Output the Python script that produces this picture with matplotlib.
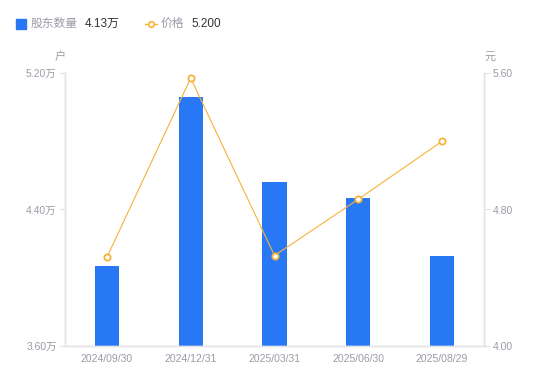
import matplotlib
matplotlib.use('Agg')
import matplotlib.pyplot as plt
from matplotlib.lines import Line2D
from matplotlib.patches import Rectangle

plt.rcParams['font.family'] = ['Liberation Sans', 'Noto Sans CJK SC', 'DejaVu Sans']

dates = ['2024/09/30', '2024/12/31', '2025/03/31', '2025/06/30', '2025/08/29']
holders = [4.07, 5.06, 4.56, 4.47, 4.13]   # 万户
price = [4.52, 5.57, 4.53, 4.86, 5.20]     # 元
left_ticks = [3.60, 4.40, 5.20]
right_ticks = [4.00, 4.80, 5.60]

blue = '#2878F5'
orange = '#F7B23B'
grey = '#9B9BA8'
spine_c = '#E3E3E8'

fig = plt.figure(figsize=(5.5, 3.81), dpi=100)
ax = fig.add_axes([65/550, 1-346/381, (484-65)/550, (346-73)/381])
x = list(range(len(dates)))
ax.bar(x, holders, width=0.29, color=blue, zorder=2)
ax.set_xlim(-0.5, 4.5)
ax.set_ylim(3.60, 5.20)
ax.set_yticks(left_ticks)
ax.set_yticklabels(['%.2f万' % v for v in left_ticks])
ax.set_xticks(x)
ax.set_xticklabels(dates)

ax2 = ax.twinx()
ax2.plot(x, price, color=orange, lw=0.8, marker='o', ms=4.5,
         mfc='white', mec=orange, mew=1.3, zorder=3)
ax2.set_ylim(4.00, 5.60)
ax2.set_yticks(right_ticks)
ax2.set_yticklabels(['%.2f' % v for v in right_ticks])

for a in (ax, ax2):
    for s in a.spines.values():
        s.set_color(spine_c)
        s.set_linewidth(1)
    a.spines['top'].set_visible(False)
    a.tick_params(colors=grey, labelsize=7.5, length=4, width=0.8, color=spine_c)
ax.tick_params(axis='x', length=0, pad=6)
ax.tick_params(axis='y', pad=2)
ax2.tick_params(axis='y', pad=2)

fig.text(60/550, 1-57/381, '户', color=grey, fontsize=8, ha='center', va='center')
fig.text(490/550, 1-57/381, '元', color=grey, fontsize=8, ha='center', va='center')

# legend
fig.add_artist(Rectangle((16/550, 1-29/381), 10/550, 10/381, color=blue,
                         transform=fig.transFigure))
fig.text(31/550, 1-24/381, '股东数量', color=grey, fontsize=8.5, va='center')
fig.text(85/550, 1-24/381, '4.13万', color='#333333', fontsize=8.5, va='center')
fig.add_artist(Line2D([145/550, 157/550], [1-24/381, 1-24/381], color=orange, lw=1,
                      transform=fig.transFigure))
fig.add_artist(Line2D([151/550], [1-24/381], color=orange, marker='o', ms=4,
                      mfc='white', mec=orange, mew=1.2, transform=fig.transFigure))
fig.text(161/550, 1-24/381, '价格', color=grey, fontsize=8.5, va='center')
fig.text(191/550, 1-24/381, '5.200', color='#333333', fontsize=8.5, va='center')

fig.savefig('out.png', dpi=100)
